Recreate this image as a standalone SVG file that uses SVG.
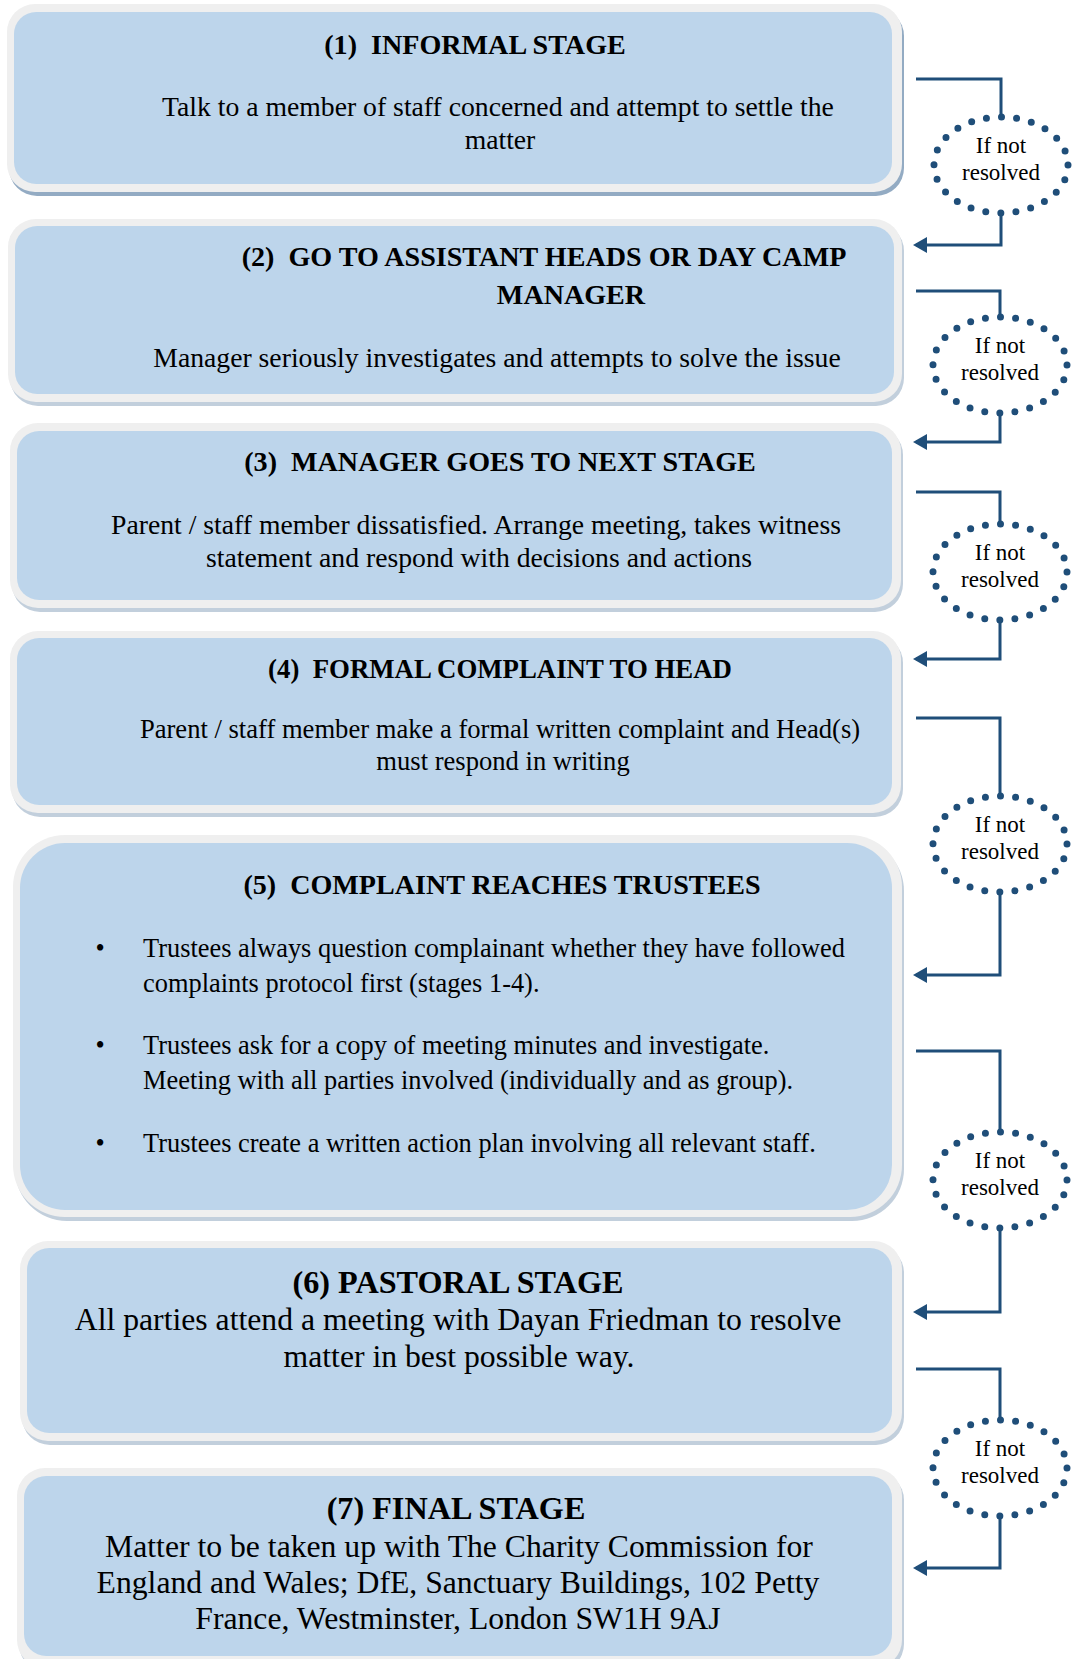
<svg xmlns="http://www.w3.org/2000/svg" width="1078" height="1659" viewBox="0 0 1078 1659">
<style>
.outer{fill:#efefef}
.inner{fill:#bdd5eb}
.shadow{fill:#c2cfdc}
.shadow1{fill:#93abc3}
.t{font-family:"Liberation Serif","Times New Roman",serif;fill:#000;text-anchor:middle;white-space:pre}
.s{text-anchor:start}
.h{font-weight:bold;font-size:28.1px}
.b{font-size:27.7px}
.b4{font-size:26.6px}
.h4{font-size:26.8px}
.bl{font-size:26.4px}
.big{font-size:31.7px}
.bigh{font-size:32.2px}
.ir{font-size:23px}
.c{fill:none;stroke:#1f4e79;stroke-width:3}
.dot{fill:none;stroke:#1f4e79;stroke-width:7;stroke-linecap:round;stroke-dasharray:0 15.16}
</style>
<defs>
<marker id="ah" markerUnits="userSpaceOnUse" markerWidth="14" markerHeight="16" refX="11" refY="8" orient="auto">
<path d="M0,0 L14,8 L0,16 z" fill="#1f4e79"/>
</marker>
</defs>
<rect width="1078" height="1659" fill="#ffffff"/>

<g id="box1">
<rect class="shadow1" x="9" y="8" width="895" height="188" rx="28"/>
<rect class="outer" x="7" y="4" width="895" height="188" rx="28"/>
<rect class="inner" x="14" y="12" width="878" height="172" rx="22"/>
<text class="t h" x="475" y="54">(1)  INFORMAL STAGE</text>
<text class="t b" x="498" y="116">Talk to a member of staff concerned and attempt to settle the</text>
<text class="t b" x="500" y="149">matter</text>
</g>

<g id="box2">
<rect class="shadow" x="10" y="223" width="894" height="183" rx="28"/>
<rect class="outer" x="8" y="219" width="894" height="183" rx="28"/>
<rect class="inner" x="15" y="226" width="879" height="168" rx="22"/>
<text class="t h" x="544" y="266">(2)  GO TO ASSISTANT HEADS OR DAY CAMP</text>
<text class="t h" x="571" y="304">MANAGER</text>
<text class="t b" x="497" y="367">Manager seriously investigates and attempts to solve the issue</text>
</g>

<g id="box3">
<rect class="shadow" x="12" y="427" width="891" height="185" rx="28"/>
<rect class="outer" x="10" y="423" width="891" height="185" rx="28"/>
<rect class="inner" x="17" y="431" width="875" height="169" rx="22"/>
<text class="t h" x="500" y="471">(3)  MANAGER GOES TO NEXT STAGE</text>
<text class="t b" x="476" y="534">Parent / staff member dissatisfied. Arrange meeting, takes witness</text>
<text class="t b" x="479" y="567">statement and respond with decisions and actions</text>
</g>

<g id="box4">
<rect class="shadow" x="12" y="635" width="891" height="182" rx="28"/>
<rect class="outer" x="10" y="631" width="891" height="182" rx="28"/>
<rect class="inner" x="17" y="638" width="875" height="167" rx="22"/>
<text class="t h h4" x="500" y="678">(4)  FORMAL COMPLAINT TO HEAD</text>
<text class="t b4" x="500" y="738">Parent / staff member make a formal written complaint and Head(s)</text>
<text class="t b4" x="503" y="770">must respond in writing</text>
</g>

<g id="box5">
<rect class="shadow" x="15" y="839" width="889" height="382" rx="52"/>
<rect class="outer" x="13" y="835" width="889" height="382" rx="52"/>
<rect class="inner" x="20" y="843" width="872" height="367" rx="45"/>
<text class="t h" x="502" y="894">(5)  COMPLAINT REACHES TRUSTEES</text>
<text class="t bl" x="100" y="957">•</text>
<text class="t bl s" x="143" y="957">Trustees always question complainant whether they have followed</text>
<text class="t bl s" x="143" y="992">complaints protocol first (stages 1-4).</text>
<text class="t bl" x="100" y="1054">•</text>
<text class="t bl s" x="143" y="1054">Trustees ask for a copy of meeting minutes and investigate.</text>
<text class="t bl s" x="143" y="1089">Meeting with all parties involved (individually and as group).</text>
<text class="t bl" x="100" y="1152">•</text>
<text class="t bl s" x="143" y="1152">Trustees create a written action plan involving all relevant staff.</text>
</g>

<g id="box6">
<rect class="shadow" x="22" y="1245" width="882" height="200" rx="28"/>
<rect class="outer" x="20" y="1241" width="882" height="200" rx="28"/>
<rect class="inner" x="27" y="1248" width="865" height="185" rx="22"/>
<text class="t h bigh" x="458" y="1293">(6) PASTORAL STAGE</text>
<text class="t big" x="458" y="1330">All parties attend a meeting with Dayan Friedman to resolve</text>
<text class="t big" x="459" y="1367">matter in best possible way.</text>
</g>

<g id="box7">
<rect class="shadow" x="19" y="1472" width="885" height="200" rx="28"/>
<rect class="outer" x="17" y="1468" width="885" height="200" rx="28"/>
<rect class="inner" x="24" y="1476" width="868" height="180" rx="22"/>
<text class="t h bigh" x="456" y="1519">(7) FINAL STAGE</text>
<text class="t big" x="459" y="1557">Matter to be taken up with The Charity Commission for</text>
<text class="t big" x="458" y="1593">England and Wales; DfE, Sanctuary Buildings, 102 Petty</text>
<text class="t big" x="458" y="1629">France, Westminster, London SW1H 9AJ</text>
</g>

<g id="decision1">
<ellipse class="dot" cx="1001" cy="165" rx="67" ry="48"/>
<text class="t ir" x="1001" y="153">If not</text>
<text class="t ir" x="1001" y="180">resolved</text>
</g>
<g id="decision2">
<ellipse class="dot" cx="1000" cy="365" rx="67" ry="48"/>
<text class="t ir" x="1000" y="353">If not</text>
<text class="t ir" x="1000" y="380">resolved</text>
</g>
<g id="decision3">
<ellipse class="dot" cx="1000" cy="572" rx="67" ry="48"/>
<text class="t ir" x="1000" y="560">If not</text>
<text class="t ir" x="1000" y="587">resolved</text>
</g>
<g id="decision4">
<ellipse class="dot" cx="1000" cy="844" rx="67" ry="48"/>
<text class="t ir" x="1000" y="832">If not</text>
<text class="t ir" x="1000" y="859">resolved</text>
</g>
<g id="decision5">
<ellipse class="dot" cx="1000" cy="1180" rx="67" ry="48"/>
<text class="t ir" x="1000" y="1168">If not</text>
<text class="t ir" x="1000" y="1195">resolved</text>
</g>
<g id="decision6">
<ellipse class="dot" cx="1000" cy="1468" rx="67" ry="48"/>
<text class="t ir" x="1000" y="1456">If not</text>
<text class="t ir" x="1000" y="1483">resolved</text>
</g>

<g id="connectors">
<path class="c" d="M916,79 H1001 V117"/>
<path class="c" d="M1001,213 V245 H916" marker-end="url(#ah)"/>
<path class="c" d="M916,291 H1000 V317"/>
<path class="c" d="M1000,413 V442 H916" marker-end="url(#ah)"/>
<path class="c" d="M916,492 H1000 V524"/>
<path class="c" d="M1000,620 V659 H916" marker-end="url(#ah)"/>
<path class="c" d="M916,718 H1000 V796"/>
<path class="c" d="M1000,892 V975 H916" marker-end="url(#ah)"/>
<path class="c" d="M916,1051 H1000 V1132"/>
<path class="c" d="M1000,1228 V1312 H916" marker-end="url(#ah)"/>
<path class="c" d="M916,1369 H1000 V1420"/>
<path class="c" d="M1000,1516 V1568 H916" marker-end="url(#ah)"/>
</g>
</svg>
